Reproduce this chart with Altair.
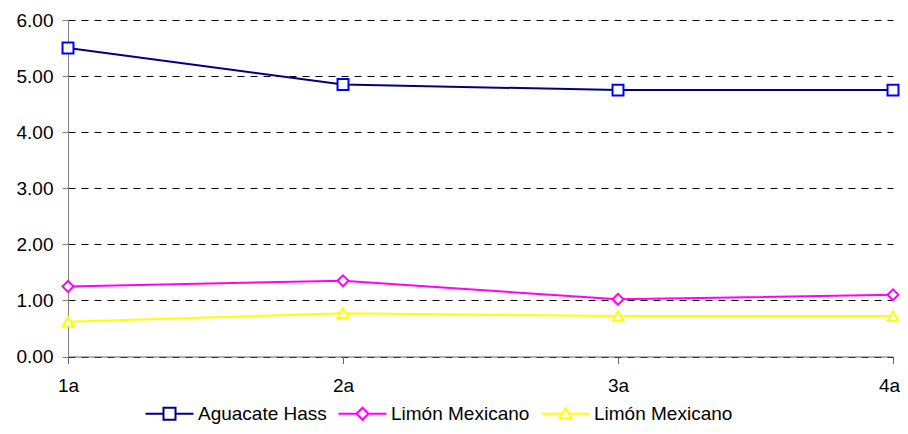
import altair as alt
import pandas as pd

periods = ["1a", "2a", "3a", "4a"]
series_keys = ["aguacate", "limon1", "limon2"]
series_names = ["Aguacate Hass", "Limón Mexicano", "Limón Mexicano"]
aguacate = [5.50, 4.85, 4.75, 4.75]
limon_1 = [1.25, 1.35, 1.02, 1.10]
limon_2 = [0.62, 0.77, 0.72, 0.72]
y_ticks = [0, 1, 2, 3, 4, 5, 6]

line_colors = ["#000080", "#FF00FF", "#FFFF00"]
marker_colors = ["#0000FF", "#FF00FF", "#FFFF00"]
marker_shapes = ["square", "diamond", "triangle-up"]
legend_paths = [
    "M-4,0H-1M1,0H4M-1,-1H1V1H-1Z",
    "M-4,0H-1M1,0H4M-1,0L0,-1L1,0L0,1Z",
    "M-4,0H-0.56M0.56,0H4M0,-1L1,0.8L-1,0.8Z",
]

rows = []
for key, vals in zip(series_keys, [aguacate, limon_1, limon_2]):
    for p, v in zip(periods, vals):
        rows.append({"period": p, "series": key, "value": v})
df = pd.DataFrame(rows)

FONT = "Liberation Sans"
FS = 19

x_enc = alt.X(
    "period:N",
    sort=periods,
    scale=alt.Scale(type="point", domain=periods, padding=0),
    axis=alt.Axis(
        title=None, labelAngle=0, grid=False, tickSize=7, labelPadding=13,
        domainColor="#666666", tickColor="#666666", labelColor="#000000",
        labelFont=FONT, labelFontSize=FS,
        labelOffset={"condition": {"test": "datum.value == '4a'", "value": -4}, "value": 0},
    ),
)
y_enc = alt.Y(
    "value:Q",
    scale=alt.Scale(domain=[0, 6], nice=False, zero=True),
    axis=alt.Axis(
        title=None, values=y_ticks, format=".2f", grid=True,
        gridColor="#000000", gridDash=[7, 6], gridWidth=1,
        tickSize=6, labelPadding=9, domainColor="#808080", tickColor="#808080",
        labelColor="#000000", labelFont=FONT, labelFontSize=FS,
    ),
)

base = alt.Chart(df)
layers = []
for key, lc in zip(series_keys, line_colors):
    sub = base.transform_filter(alt.datum.series == key)
    layers.append(sub.mark_line(color=lc, strokeWidth=2).encode(x=x_enc, y=y_enc))
for key, mc, shp in zip(series_keys, marker_colors, marker_shapes):
    sub = base.transform_filter(alt.datum.series == key)
    layers.append(
        sub.mark_point(shape=shp, filled=True, fill="white", stroke=mc,
                       strokeWidth=2, size=120, opacity=1).encode(x=x_enc, y=y_enc)
    )

label_expr = "datum.value == 'aguacate' ? 'Aguacate Hass' : 'Limón Mexicano'"
leg = alt.Legend(
    title=None, orient="none", direction="horizontal",
    legendX=92, legendY=384,
    labelExpr=label_expr, labelFont=FONT, labelFontSize=FS, labelColor="#000000",
    symbolSize=144, symbolStrokeWidth=2, symbolFillColor="white",
    labelOffset=19, columnPadding=7, padding=0,
)
legend_layer = base.transform_filter("false").mark_point(filled=False, strokeWidth=2, opacity=1).encode(
    color=alt.Color("series:N", scale=alt.Scale(domain=series_keys, range=line_colors), legend=leg),
    shape=alt.Shape("series:N", scale=alt.Scale(domain=series_keys, range=legend_paths), legend=leg),
)
layers.append(legend_layer)

chart = alt.layer(*layers).properties(
    width=825, height=336.5,
    padding={"left": 60, "top": 12, "right": 7, "bottom": 69.5},
    autosize=alt.AutoSizeParams(type="none"),
    background="white",
).configure_view(stroke=None)

chart.save("out.html", embed_options={"renderer": "svg", "actions": False})
